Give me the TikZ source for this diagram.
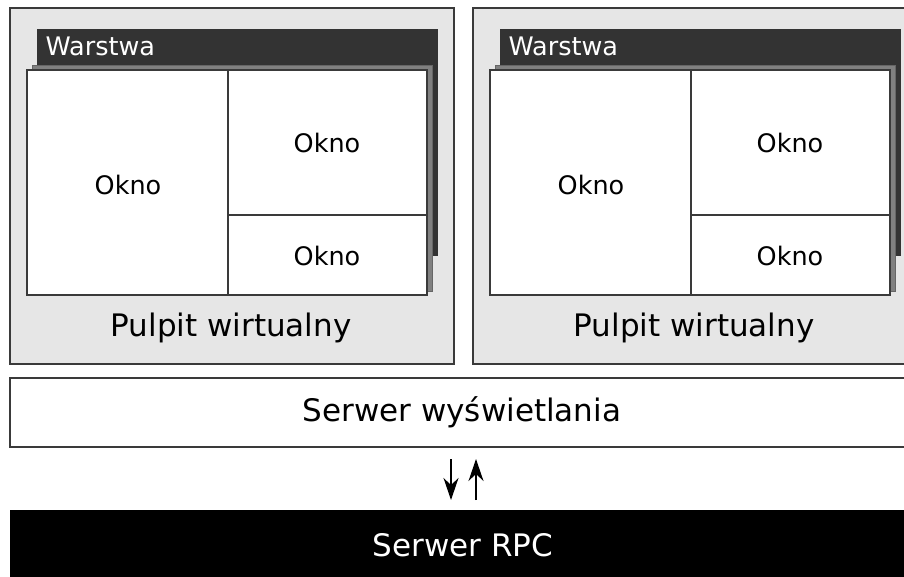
\documentclass[tikz,border=0pt]{standalone}
\usepackage{fontspec}
\setmainfont{DejaVu Sans}
\usetikzlibrary{arrows.meta}
\definecolor{panelbg}{HTML}{E6E6E6}
\definecolor{darklayer}{HTML}{333333}
\definecolor{midlayer}{HTML}{808080}
\definecolor{edge}{HTML}{3A3A3A}
\tikzset{
  panel/.style={draw=edge, fill=panelbg, line width=1.2pt},
  darkrect/.style={draw=darklayer, fill=darklayer, line width=0.8pt},
  midrect/.style={draw=midlayer!80!black, fill=midlayer, line width=0.8pt},
  win/.style={draw=edge, fill=white, line width=1.2pt},
  small/.style={font=\fontsize{25.5}{30}\selectfont},
  big/.style={font=\fontsize{31}{37}\selectfont},
  conn/.style={line width=1.3pt, -{Stealth[length=22pt,width=15pt,inset=7pt]}},
}
\begin{document}
\begin{tikzpicture}[x=1pt,y=-1pt]
\useasboundingbox (0,0) rectangle (904,577);
% panels
\foreach \dx/\nm in {0/L,463/R}{
  \begin{scope}[xshift=\dx pt]
  \draw[panel] (10,8) rectangle (454,364);
  \draw[darkrect] (37,29) rectangle (437,255);
  \draw[midrect] (32,65) rectangle (432,291);
  \draw[win] (27,70) rectangle (427,295);
  \draw[edge, line width=1.2pt] (228,70) -- (228,295);
  \draw[edge, line width=1.2pt] (228,215) -- (427,215);
  \node[small, text=white, anchor=west] (warstwa\nm) at (42,46) {Warstwa};
  \node[small] (okno1\nm) at (128,185) {Okno};
  \node[small] (okno2\nm) at (327,143) {Okno};
  \node[small] (okno3\nm) at (327,256) {Okno};
  \node[big] (pulpit\nm) at (231,328) {Pulpit wirtualny};
  \end{scope}
}
% display server
\draw[panel, fill=white] (10,378) rectangle (915,447);
\node[big] (disp) at (462,412) {Serwer wyświetlania};
% RPC server
\fill[black] (10,510) rectangle (915,577);
\node[big, text=white] (rpc) at (463,545) {Serwer RPC};
% arrows
\coordinate (d1) at (451,459);
\coordinate (d2) at (451,500);
\coordinate (u1) at (476,500);
\coordinate (u2) at (476,459);
\draw[conn] (d1) -- (d2);
\draw[conn] (u1) -- (u2);
\end{tikzpicture}
\end{document}
